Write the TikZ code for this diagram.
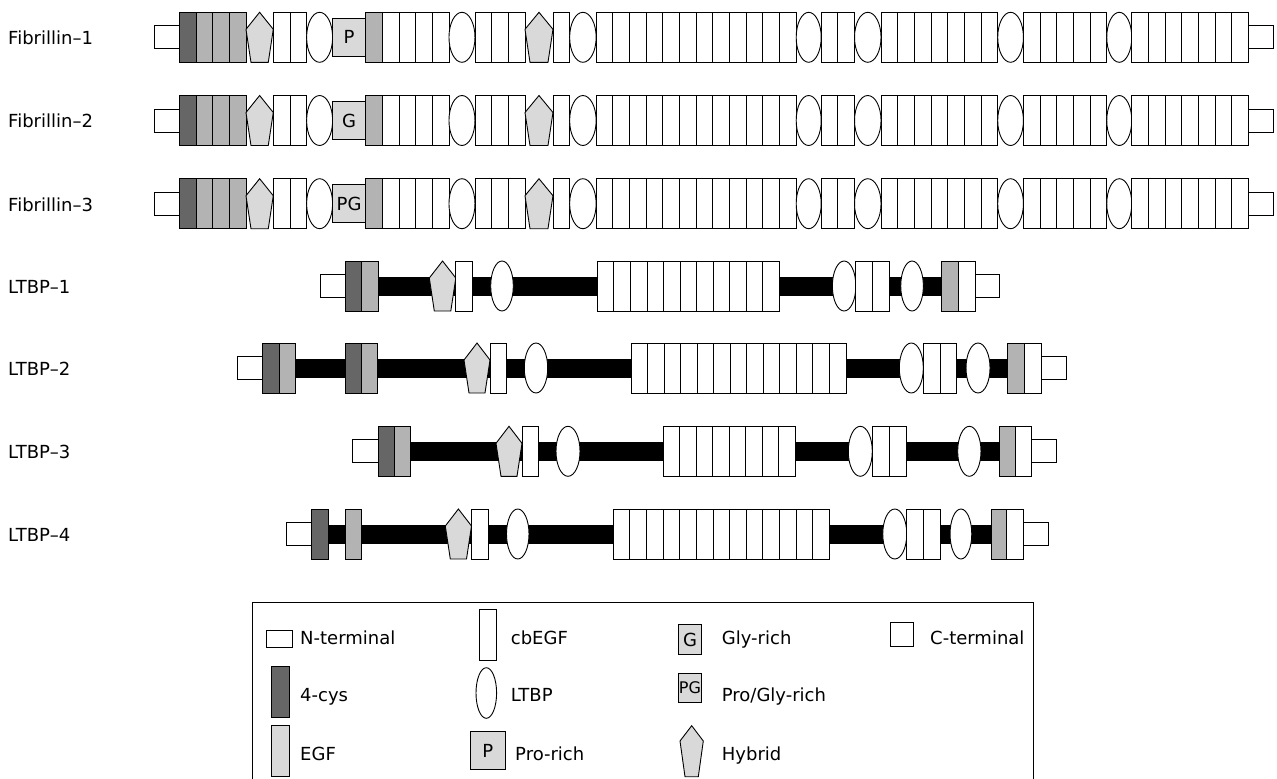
\documentclass[tikz,border=0pt]{standalone}
\usepackage{fontspec}
\setmainfont{DejaVu Sans}
\definecolor{cysc}{HTML}{666666}
\definecolor{egfc}{HTML}{B3B3B3}
\definecolor{lgc}{HTML}{D9D9D9}
\newcommand\rowy{0}
\newcommand\curx{0}
\newcommand\boxlabel{P}
\newcommand\dmT[2]{\draw[dom,fill=white] (#1,\rowy-11.5) rectangle ++(#2,23);}
\newcommand\dmK[2]{\draw[dom,fill=cysc] (#1,\rowy-25) rectangle ++(#2,50);}
\newcommand\dmE[2]{\draw[dom,fill=egfc] (#1,\rowy-25) rectangle ++(#2,50);}
\newcommand\dmc[2]{\draw[dom,fill=white] (#1,\rowy-25) rectangle ++(#2,50);}
\newcommand\dmL[2]{\pgfmathsetmacro\hw{#2/2}\draw[dom,fill=white] (#1+\hw,\rowy) ellipse [x radius=\hw, y radius=25];}
\newcommand\dmH[2]{\draw[dom,fill=lgc] (#1+#2/2,\rowy-25) -- (#1+#2,\rowy-8) -- (#1+#2-5,\rowy+25) -- (#1+5,\rowy+25) -- (#1,\rowy-8) -- cycle;}
\newcommand\dmB[2]{\draw[dom,fill=lgc] (#1,\rowy-19) rectangle ++(#2,38); \node[txt] at (#1+#2/2,\rowy) {\boxlabel};}
\newcommand\dmg[2]{}
\newcommand\drawrow[3]{\gdef\rowy{#1}\xdef\curx{#2}%
  \foreach \t/\w in {#3}{%
    \csname dm\t\endcsname{\curx}{\w}%
    \pgfmathsetmacro\nx{\curx+\w}\xdef\curx{\nx}%
  }}
\newcommand\fibrow[2]{\gdef\boxlabel{#2}\drawrow{#1}{154.3}{T/25,K/16.67,E/16.67,E/16.67,E/16.67,H/27.3,c/16.67,c/16.67,L/26,B/33,E/16.67,c/16.67,c/16.67,c/16.67,c/16.67,L/26,c/16.67,c/16.67,c/16.67,H/28,c/16.67,L/26.5,c/16.67,c/16.67,c/16.67,c/16.67,c/16.67,c/16.67,c/16.67,c/16.67,c/16.67,c/16.67,c/16.67,c/16.67,L/25,c/16.67,c/16.67,L/26.5,c/16.67,c/16.67,c/16.67,c/16.67,c/16.67,c/16.67,c/16.67,L/25.7,c/16.67,c/16.67,c/16.67,c/16.67,c/16.67,L/25,c/16.67,c/16.67,c/16.67,c/16.67,c/16.67,c/16.67,c/16.67,T/25}}
\begin{document}
\begin{tikzpicture}[x=1pt,y=-1pt,
  dom/.style={draw=black, line width=0.9pt},
  txt/.style={font=\fontsize{18}{20}\selectfont, inner sep=0pt},
  lbl/.style={font=\fontsize{18}{20}\selectfont, inner sep=0pt, anchor=base west},
  bar/.style={fill=black}]
\useasboundingbox (0,0) rectangle (1277,779);
% Fibrillins
\node[lbl] (l1) at (8,44.5) {Fibrillin--1};
\fibrow{37.3}{P}
\node[lbl] (l2) at (8,127.7) {Fibrillin--2};
\fibrow{120.5}{G}
\node[lbl] (l3) at (8,211) {Fibrillin--3};
\fibrow{203.7}{PG}
% LTBP-1
\node[lbl] (l4) at (8,293.5) {LTBP--1};
\fill[bar] (345,276.5) rectangle (975,295.5);
\drawrow{286}{320}{T/25,K/16.7,E/16.6,g/51,H/26.5,c/16.7,g/18.2,L/22.6,g/84,c/16.55,c/16.55,c/16.55,c/16.55,c/16.55,c/16.55,c/16.55,c/16.55,c/16.55,c/16.55,c/16.55,g/53,L/23.5,c/16.7,c/16.7,g/11.5,L/22.6,g/18.4,E/16.6,c/16.7,T/24.3}
% LTBP-2
\node[lbl] (l5) at (8,375.5) {LTBP--2};
\fill[bar] (262.3,358.5) rectangle (1041,377.5);
\drawrow{368}{237.3}{T/25,K/16.7,E/16,g/50,K/16.7,E/16,g/86.3,H/26,c/16.7,g/17.6,L/23.4,g/83.3,c/16.54,c/16.54,c/16.54,c/16.54,c/16.54,c/16.54,c/16.54,c/16.54,c/16.54,c/16.54,c/16.54,c/16.54,c/16.54,g/53.3,L/24,c/16.65,c/16.65,g/9.4,L/24,g/17.6,E/16.7,c/16.7,T/25}
% LTBP-3
\node[lbl] (l6) at (8,458.5) {LTBP--3};
\fill[bar] (378.3,441.8) rectangle (1031.7,460.8);
\drawrow{451.3}{352.7}{T/25.6,K/16,E/16.4,g/85.3,H/26,c/16.3,g/17.7,L/24,g/83.3,c/16.46,c/16.46,c/16.46,c/16.46,c/16.46,c/16.46,c/16.46,c/16.46,g/53.3,L/24,c/16.85,c/16.85,g/51.7,L/23.3,g/18.3,E/16,c/16.4,T/25}
% LTBP-4
\node[lbl] (l7) at (8,541) {LTBP--4};
\fill[bar] (311,524.5) rectangle (1023.3,543.5);
\drawrow{534}{286}{T/25,K/17.3,g/16.7,E/16.7,g/83.6,H/26.2,c/16.7,g/18.3,L/22.5,g/84.3,c/16.62,c/16.62,c/16.62,c/16.62,c/16.62,c/16.62,c/16.62,c/16.62,c/16.62,c/16.62,c/16.62,c/16.62,c/16.62,g/53.4,L/24,c/16.65,c/16.65,g/10,L/21.7,g/19.3,E/15.7,c/16.6,T/24.7}
% Legend
\draw[line width=0.8pt] (252.7,790) -- (252.7,602.3) -- (1033.3,602.3) -- (1033.3,790);
\draw[dom,fill=white] (266.7,630) rectangle (292.3,647);
\node[lbl] (tn) at (300,644.3) {N-terminal};
\draw[dom,fill=white] (479.3,609) rectangle (496,660);
\node[lbl] (tcb) at (510.7,644.3) {cbEGF};
\draw[dom,fill=lgc] (678.3,624.7) rectangle (701.7,654.3);
\node[txt] (tg) at (690,639.5) {G};
\node[lbl] (tgr) at (721.7,644.3) {Gly-rich};
\draw[dom,fill=white] (890,622.7) rectangle (913.3,646);
\node[lbl] (tc) at (930,644.3) {C-terminal};
\draw[dom,fill=cysc] (271.7,666.7) rectangle (289.3,717.7);
\node[lbl] (tk) at (300,701.7) {4-cys};
\draw[dom,fill=white] (486.3,693) ellipse [x radius=10.3, y radius=25.3];
\node[lbl] (tl) at (510.7,701.7) {LTBP};
\draw[dom,fill=lgc] (678.3,673) rectangle (701.7,702);
\node[txt,font=\fontsize{16}{18}\selectfont] (tpg) at (690,687.5) {PG};
\node[lbl] (tpgr) at (721.7,701.7) {Pro/Gly-rich};
\draw[dom,fill=lgc] (271.7,725.7) rectangle (289.3,776.7);
\node[lbl] (te) at (300,760.7) {EGF};
\draw[dom,fill=lgc] (470.7,731.7) rectangle (505,769.3);
\node[txt] (tp) at (487.8,750.5) {P};
\node[lbl] (tpr) at (515,760.7) {Pro-rich};
\draw[dom,fill=lgc] (691.7,725.7) -- (703.3,741) -- (698.3,776.7) -- (685,776.7) -- (680,741) -- cycle;
\node[lbl] (th) at (721.7,760.7) {Hybrid};
\end{tikzpicture}
\end{document}
